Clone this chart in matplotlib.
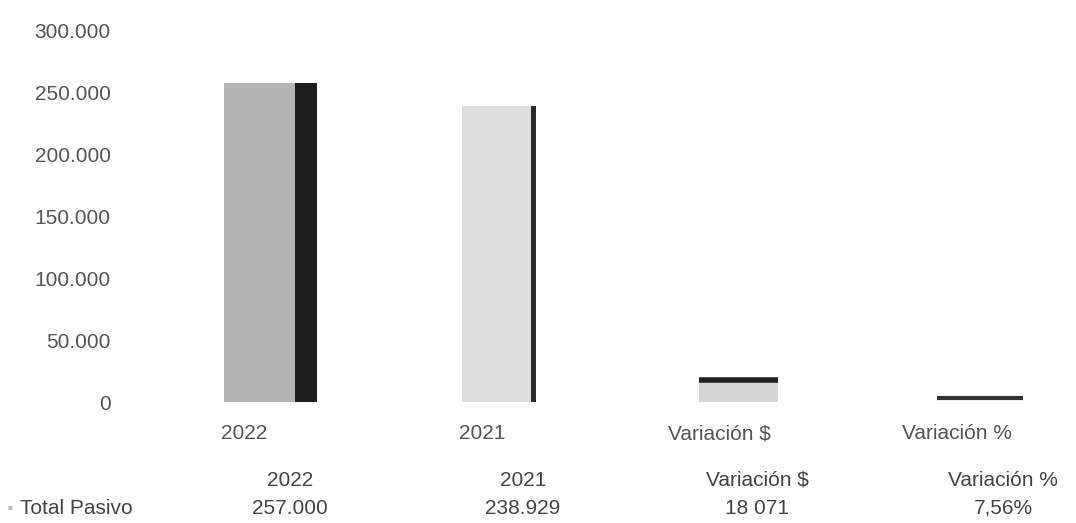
import matplotlib.pyplot as plt

# data
categories = ['2022', '2021', 'Variación $', 'Variación %']
values = [257000, 238929, 18071, 7.56]
table_values = ['257.000', '238.929', '18 071', '7,56%']
row_label = 'Total Pasivo'
yticks = [0, 50000, 100000, 150000, 200000, 250000, 300000]

plt.rcParams['font.family'] = ['Liberation Sans', 'DejaVu Sans']

fig = plt.figure(figsize=(10.76, 5.23), dpi=100)
ax = fig.add_axes([130 / 1076, 1 - 402 / 523, 1 - 130 / 1076, 372 / 523])

front_colors = ['#b4b4b4', '#dedede', '#d6d6d6', '#555555']
side_colors = ['#1e1e1e', '#2a2a2a', '#333333', '#444444']
side_w = [0.09, 0.025, 0.0, 0.0]
front_w = [0.30, 0.29, 0.33, 0.36]
x = list(range(len(categories)))

for i, v in enumerate(values):
    left = i - 0.085
    ax.bar(left, v, width=front_w[i], align='edge', color=front_colors[i],
           linewidth=0)
    if side_w[i] > 0:
        ax.bar(left + front_w[i], v, width=side_w[i], align='edge',
               color=side_colors[i], linewidth=0)
# dark top edge on the small bars
ax.plot([2 - 0.085, 2 - 0.085 + front_w[2]], [values[2], values[2]],
        color='#222222', lw=4, solid_capstyle='butt')
ax.plot([3 - 0.085, 3 - 0.085 + front_w[3]], [values[3] + 3000, values[3] + 3000],
        color='#333333', lw=3, solid_capstyle='butt')

ax.set_xlim(-0.48, 3.5)
ax.set_ylim(0, 300000)
ax.set_yticks(yticks)
ax.set_yticklabels([f'{t:,.0f}'.replace(',', '.') for t in yticks])
ax.set_xticks(x)
ax.set_xticklabels(categories)
ax.tick_params(axis='both', length=0, labelsize=15, colors='#555555')
ax.tick_params(axis='x', pad=16)
ax.tick_params(axis='y', pad=14)
for s in ax.spines.values():
    s.set_visible(False)

# data table under the chart
col_x = [290, 523, 757, 1003]
for cx, cat, val in zip(col_x, categories, table_values):
    fig.text(cx / 1076, 1 - 480 / 523, cat, ha='center', va='center',
             fontsize=15, color='#444444')
    fig.text(cx / 1076, 1 - 508 / 523, val, ha='center', va='center',
             fontsize=15, color='#444444')
fig.text(8 / 1076, 1 - 508 / 523, '■', ha='left', va='center', fontsize=6, color='#bbbbbb')
fig.text(20 / 1076, 1 - 508 / 523, row_label, ha='left', va='center',
         fontsize=15, color='#444444')

fig.savefig('out.png', dpi=100)
